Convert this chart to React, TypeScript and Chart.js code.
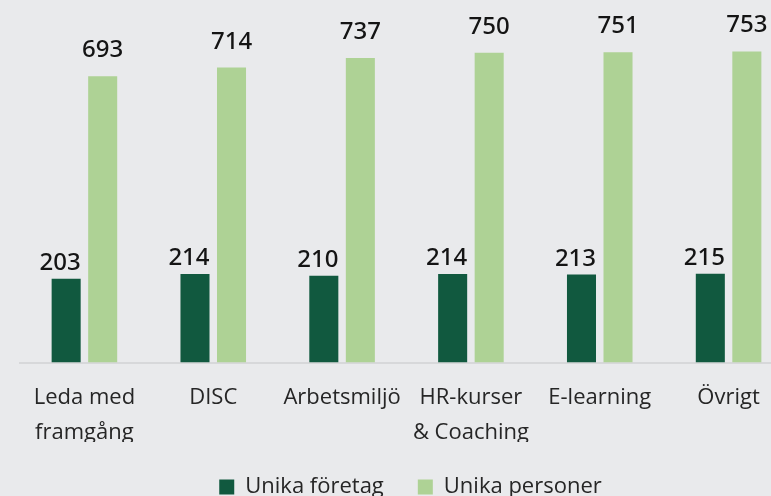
import React, { useEffect, useRef } from "react";
import { Chart, registerables } from "chart.js";

Chart.register(...registerables);

const categories: (string | string[])[] = [
  ["Leda med", "framgång"],
  "DISC",
  "Arbetsmiljö",
  ["HR-kurser", "& Coaching"],
  "E-learning",
  "Övrigt",
];
const unikaForetag = [203, 214, 210, 214, 213, 215];
const unikaPersoner = [693, 714, 737, 750, 751, 753];
const seriesNames = ["Unika företag", "Unika personer"];

const DARK = "#11593f";
const LIGHT = "#aed295";
const BG = "#e9eaec";

const labelPlugin = {
  id: "valueLabels",
  afterDatasetsDraw(chart: any) {
    const ctx = chart.ctx;
    ctx.save();
    ctx.font = '500 24px "Noto Sans"';
    ctx.fillStyle = "#141414";
    ctx.textAlign = "center";
    ctx.textBaseline = "alphabetic";
    chart.data.datasets.forEach((ds: any, di: number) => {
      const meta = chart.getDatasetMeta(di);
      const dx = di === 0 ? -6 : 0;
      const dy = di === 0 ? 9 : 19;
      meta.data.forEach((el: any, i: number) => {
        ctx.fillText(String(ds.data[i]), el.x + dx, el.y - dy);
      });
    });
    ctx.restore();
  },
};

const legendShift = {
  id: "legendShift",
  afterLayout(chart: any) {
    if (chart.legend) {
      chart.legend.left += 4;
      chart.legend.right += 4;
    }
  },
};

export default function App() {
  const ref = useRef<HTMLCanvasElement | null>(null);
  useEffect(() => {
    if (!ref.current) return;
    const chart = new Chart(ref.current, {
      type: "bar",
      data: {
        labels: categories,
        datasets: [
          {
            label: seriesNames[0],
            data: unikaForetag,
            backgroundColor: DARK,
            categoryPercentage: 0.567,
            barPercentage: 0.795,
          },
          {
            label: seriesNames[1],
            data: unikaPersoner,
            backgroundColor: LIGHT,
            categoryPercentage: 0.567,
            barPercentage: 0.795,
          },
        ],
      },
      options: {
        responsive: false,
        animation: false,
        layout: { padding: { left: 20, right: 7, top: 32, bottom: 0 } },
        scales: {
          x: {
            grid: { display: false, drawTicks: false },
            border: { display: true, color: "#d7d8da", width: 2 },
            ticks: {
              color: "#262626",
              padding: 18,
              maxRotation: 0,
              autoSkip: false,
              font: { family: '"Open Sans"', size: 22, lineHeight: 1.58 },
            },
            afterFit: (scale: any) => {
              scale.height = 79.5;
            },
          },
          y: {
            display: false,
            min: 0,
            max: 800,
          },
        },
        plugins: {
          legend: {
            position: "bottom",
            labels: {
              boxWidth: 15,
              boxHeight: 15,
              padding: 34,
              color: "#262626",
              font: { family: '"Open Sans"', size: 22 },
            },
          },
          tooltip: { enabled: false },
        },
      },
      plugins: [labelPlugin, legendShift],
    });
    return () => chart.destroy();
  }, []);
  return (
    <div
      style={{
        position: "fixed",
        left: 0,
        top: 0,
        width: 771,
        height: 496,
        overflow: "hidden",
        background: BG,
      }}
    >
      <canvas ref={ref} width={800} height={508} style={{ display: "block" }} />
    </div>
  );
}
